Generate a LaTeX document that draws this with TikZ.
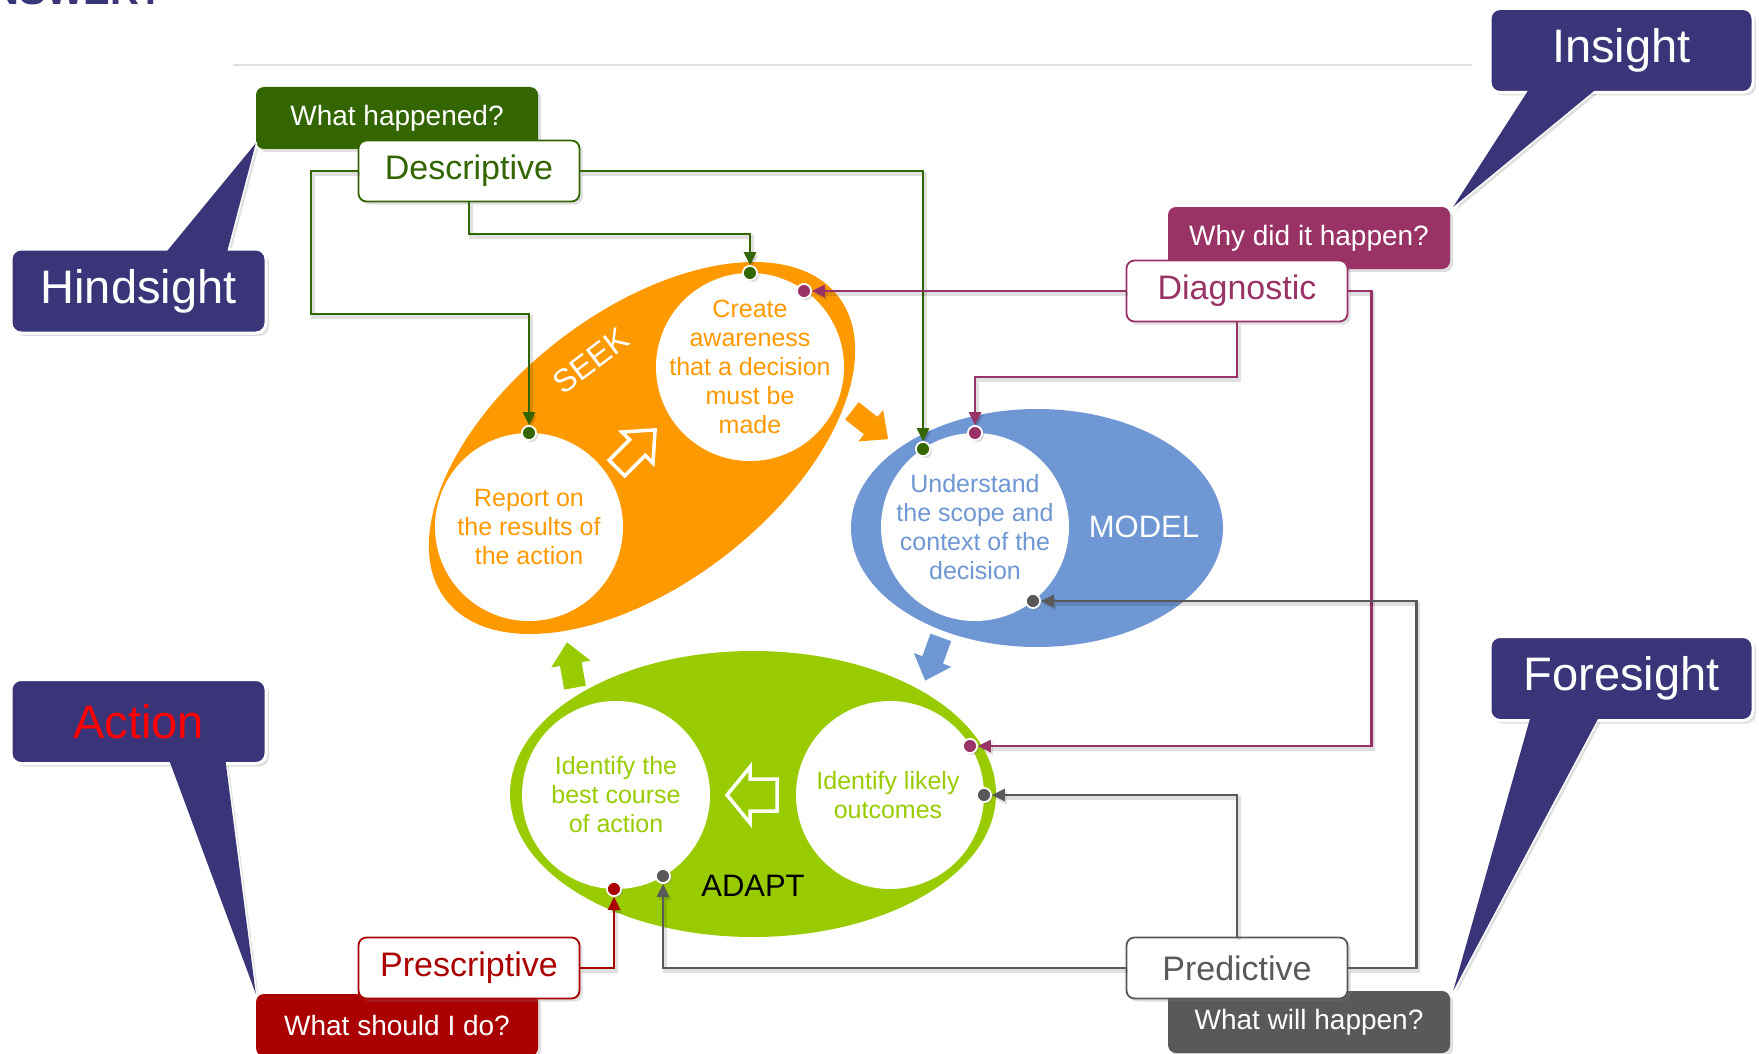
\documentclass[tikz,border=0pt]{standalone}
\usepackage{fontspec}
\setmainfont{Liberation Sans}
\usetikzlibrary{arrows.meta,shadows,calc}

\definecolor{navy}{HTML}{3A3578}
\definecolor{dgreen}{HTML}{336600}
\definecolor{plum}{HTML}{993366}
\definecolor{slate}{HTML}{595959}
\definecolor{crimson}{HTML}{AA0000}
\definecolor{seekc}{HTML}{FF9900}
\definecolor{modelc}{HTML}{6F97D3}
\definecolor{adaptc}{HTML}{99CC00}

\tikzset{
  softshadow/.style={drop shadow={opacity=0.25, shadow xshift=3pt, shadow yshift=-3pt}},
  qbox/.style={rounded corners=8pt, fill=#1, minimum width=282pt, minimum height=62pt,
    inner sep=0pt, text=white, font=\fontsize{28}{32}\selectfont, softshadow},
  kbox/.style={rounded corners=8pt, fill=white, draw=#1, line width=1.8pt, text=#1,
    minimum width=221pt, minimum height=61pt, inner sep=0pt,
    font=\fontsize{34}{38}\selectfont, softshadow},
  callbox/.style={rounded corners=10pt, fill=navy, draw=white, line width=3pt,
    minimum height=84pt, inner sep=0pt, text=white,
    font=\fontsize{47}{54}\selectfont, softshadow},
  callptr/.style={fill=navy, draw=white, line width=3pt, line join=round, softshadow},
  ctext/.style={align=center, inner sep=0pt, text=#1, font=\fontsize{25}{29}\selectfont},
  stage/.style={inner sep=0pt, font=\fontsize{31}{36}\selectfont},
  dot/.style={circle, fill=#1, draw=white, line width=1.6pt, minimum size=14pt,
    inner sep=0pt, drop shadow={opacity=0.3, shadow xshift=2pt, shadow yshift=-2pt}},
  link/.style={draw=#1, line width=2.6pt, -{Triangle[length=13pt,width=12pt]},
    preaction={draw=black, opacity=0.12, line width=3.5pt,
      transform canvas={shift={(2pt,-3pt)}}}},
  hollow/.style={draw=white, line width=3.5pt, line join=miter},
}

\begin{document}
\begin{tikzpicture}[x=1pt,y=-1pt]
\useasboundingbox (0,0) rectangle (1759,1054);
\clip (0,0) rectangle (1759,1054);
\fill[white] (0,0) rectangle (1759,1054);

% heading running off the top edge
\node[anchor=base east, inner sep=0pt, text=navy,
  font=\bfseries\fontsize{40}{44}\selectfont] (ans) at (164,5) {ANSWER?};
% separator rule
\draw[black!12, line width=1.5pt] (233,65) -- (1472,65);

% ---------- stage ellipses ----------
\fill[seekc, rotate around={37.7:(642,448)}] (642,448) ellipse [x radius=248pt, y radius=136pt];
\fill[modelc] (1037,528) ellipse [x radius=186pt, y radius=119pt];
\fill[adaptc] (753,794) ellipse [x radius=243pt, y radius=143pt];

% white step circles
\fill[white] (529,527) circle (94pt);
\fill[white] (750,367) circle (94pt);
\fill[white] (975,527) circle (94pt);
\fill[white] (616,795) circle (94pt);
\fill[white] (890,795) circle (94pt);

\node[ctext=seekc] (tRep) at (529,527) {Report on\\the results of\\the action};
\node[ctext=seekc] (tCre) at (750,367) {Create\\awareness\\that a decision\\must be\\made};
\node[ctext=modelc] (tUnd) at (975,527) {Understand\\the scope and\\context of the\\decision};
\node[ctext=adaptc] (tBest) at (616,795) {Identify the\\best course\\of action};
\node[ctext=adaptc] (tLik) at (888,795) {Identify likely\\outcomes};

% stage names
\node[stage, text=white, rotate=37, font=\fontsize{32}{36}\selectfont] (seek) at (591,361) {SEEK};
\node[stage, text=white] (model) at (1144,527) {MODEL};
\node[stage, text=black] (adapt) at (753,886) {ADAPT};

% hollow arrows inside SEEK and ADAPT
\begin{scope}[shift={(636,449)}, rotate=45]
  \draw[hollow] (-27,-11) -- (2,-11) -- (2,-22) -- (27,0) -- (2,22) -- (2,11) -- (-27,11) -- cycle;
\end{scope}
\begin{scope}[shift={(752,795)}, rotate=180]
  \draw[hollow] (-25,-16) -- (2,-16) -- (2,-28) -- (25,0) -- (2,28) -- (2,16) -- (-25,16) -- cycle;
\end{scope}

% solid arrows between stages
\begin{scope}[shift={(870,425)}, rotate=-38]
  \fill[seekc] (-23,-11) -- (1,-11) -- (1,-20) -- (23,0) -- (1,20) -- (1,11) -- (-23,11) -- cycle;
\end{scope}
\begin{scope}[shift={(933,659)}, rotate=-110]
  \fill[modelc] (-23,-11) -- (1,-11) -- (1,-20) -- (23,0) -- (1,20) -- (1,11) -- (-23,11) -- cycle;
\end{scope}
\begin{scope}[shift={(571,665)}, rotate=100]
  \fill[adaptc] (-23,-11) -- (1,-11) -- (1,-20) -- (23,0) -- (1,20) -- (1,11) -- (-23,11) -- cycle;
\end{scope}

% ---------- question boxes and analytics boxes ----------
\node[qbox=dgreen] (qDesc) at (397,118) {What happened?};
\node[qbox=plum] (qDiag) at (1309,238) {Why did it happen?};
\node[qbox=slate] (qPred) at (1309,1022) {What will happen?};
\node[qbox=crimson] (qPres) at (397,1025) {What should I do?};

% connection dots on the step circles
\node[dot=dgreen] (dRep) at (529,433) {};
\node[dot=dgreen] (dCre) at (750,273) {};
\node[dot=plum] (dCm) at (804,291) {};
\node[dot=dgreen] (dUg) at (923,449) {};
\node[dot=plum] (dUm) at (975,433) {};
\node[dot=slate] (dUgy) at (1033,601) {};
\node[dot=plum] (dLm) at (970,746) {};
\node[dot=slate] (dLg) at (984,795) {};
\node[dot=crimson] (dBr) at (614,889) {};
\node[dot=slate] (dBg) at (663,876) {};

\node[kbox=dgreen] (desc) at (469,171) {Descriptive};
\node[kbox=plum] (diag) at (1237,291) {Diagnostic};
\node[kbox=slate] (pred) at (1237,968) {Predictive};
\node[kbox=crimson] (pres) at (469,968) {Prescriptive};

% ---------- connectors ----------
\coordinate (bDa) at (311,314);
\draw[link=dgreen] (desc.west) -| (bDa) -| (dRep);
\draw[link=dgreen] (desc.south) -- ++(0,31.5) -| (dCre);
\draw[link=dgreen] (desc.east) -| (dUg);

\draw[link=plum] (diag.west) -- (dCm);
\draw[link=plum] (diag.south) -- ++(0,54.5) -| (dUm);
\draw[link=plum] (diag.east) -- ++(23,0) |- (dLm);

\draw[link=slate] (pred.west) -| (dBg);
\draw[link=slate] (pred.north) |- (dLg);
\draw[link=slate] (pred.east) -- ++(68,0) |- (dUgy);

\draw[link=crimson] (pres.east) -| (dBr);

% redraw dots above the connector lines
\foreach \d/\c in {dRep/dgreen,dCre/dgreen,dCm/plum,dUg/dgreen,dUm/plum,dUgy/slate,dLm/plum,dLg/slate,dBr/crimson,dBg/slate}
  \fill[\c, draw=white, line width=1.6pt] (\d) circle (7pt);

% ---------- callouts ----------
\coordinate (hL) at (163,256);
\coordinate (hR) at (226,256);
\coordinate (hT) at ($(qDesc.south west)+(0,-6)$);
\path[callptr] (hL) -- (hT) -- (hR) -- cycle;
\node[callbox, minimum width=255pt] (hind) at (138.5,291) {Hindsight};
\fill[navy] (hL) -- (hT) -- (hR) -- cycle;

\coordinate (iL) at (1531,86);
\coordinate (iR) at (1600,86);
\coordinate (iT) at ($(qDiag.north east)+(3,0)$);
\path[callptr] (iL) -- (iT) -- (iR) -- cycle;
\node[callbox, minimum width=263pt] (ins) at (1621.5,50.5) {Insight};
\fill[navy] (iL) -- (iT) -- (iR) -- cycle;

\coordinate (fL) at (1531,715);
\coordinate (fR) at (1600,715);
\coordinate (fT) at ($(qPred.north east)+(3,0)$);
\path[callptr] (fL) -- (fT) -- (fR) -- cycle;
\node[callbox, minimum width=263pt] (fore) at (1621.5,678.5) {Foresight};
\fill[navy] (fL) -- (fT) -- (fR) -- cycle;

\coordinate (aL) at (168,757);
\coordinate (aR) at (225,757);
\coordinate (aT) at (qPres.north west);
\path[callptr] (aL) -- (aT) -- (aR) -- cycle;
\node[callbox, minimum width=255pt, text=red] (act) at (138.5,721.5) {Action};
\fill[navy] (aL) -- (aT) -- (aR) -- cycle;
\end{tikzpicture}
\end{document}
